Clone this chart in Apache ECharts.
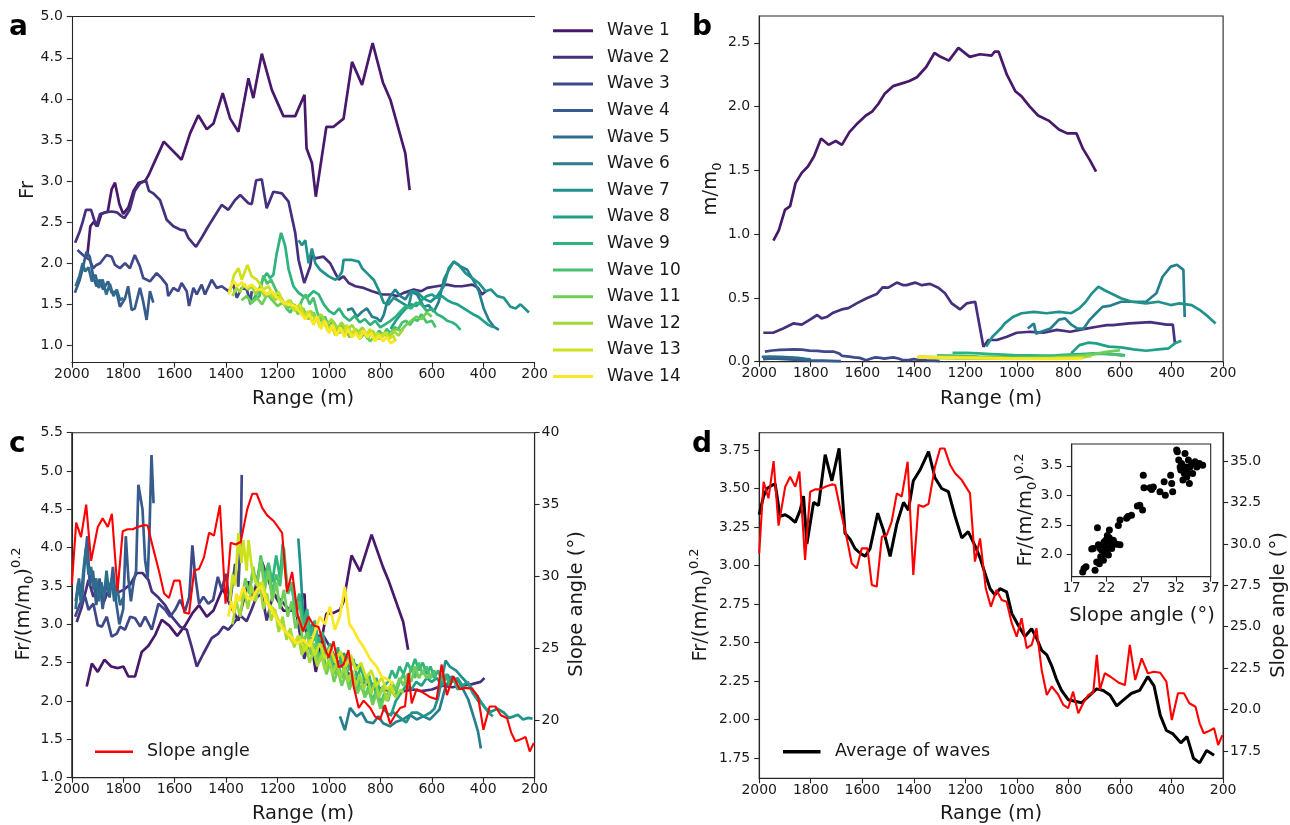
<!DOCTYPE html>
<html><head><meta charset="utf-8">
<script src="https://cdn.jsdelivr.net/npm/echarts@6/dist/echarts.min.js"></script>
<style>html,body{margin:0;padding:0;background:#fff}#c{width:1290px;height:825px}</style>
</head><body><div id="c"></div>
<script>
// ---------- DATA ----------
const WAVE_NAMES = ['Wave 1','Wave 2','Wave 3','Wave 4','Wave 5','Wave 6','Wave 7','Wave 8','Wave 9','Wave 10','Wave 11','Wave 12','Wave 13','Wave 14'];
const WAVE_COLORS = ['#48186a','#46307e','#3f4889','#375b8d','#2e6d8e','#277f8e','#21918c','#1fa088','#2eb37c','#48c16e','#6ece58','#a0da39','#cde11d','#fde725'];
const X_TICKS = [2000,1800,1600,1400,1200,1000,800,600,400,200];

// Panel a : Fr
const A_W1 = [[1940,2.08],[1928,2.45],[1915,2.5],[1900,2.45],[1885,2.6],[1860,2.63],[1845,2.9],[1832,2.98],[1815,2.72],[1800,2.6],[1780,2.68],[1760,2.88],[1740,2.98],[1715,3.0],[1700,3.08],[1683,3.2],[1642,3.48],[1573,3.26],[1540,3.58],[1508,3.8],[1475,3.63],[1449,3.7],[1413,4.07],[1384,3.76],[1352,3.6],[1313,4.25],[1294,4.01],[1261,4.55],[1222,4.11],[1177,3.79],[1131,3.79],[1095,4.05],[1087,3.4],[1066,3.22],[1051,2.81],[1010,3.66],[982,3.66],[943,3.76],[910,4.45],[871,4.17],[830,4.68],[790,4.2],[761,3.99],[703,3.34],[686,2.89]];
const A_W2 = [[1987,2.25],[1970,2.38],[1958,2.5],[1945,2.65],[1925,2.65],[1905,2.45],[1890,2.6],[1870,2.62],[1845,2.63],[1825,2.62],[1810,2.58],[1795,2.55],[1775,2.65],[1755,2.88],[1735,2.97],[1712,3.01],[1700,2.88],[1683,2.85],[1657,2.77],[1631,2.53],[1605,2.45],[1579,2.41],[1560,2.4],[1547,2.31],[1517,2.2],[1495,2.31],[1469,2.45],[1449,2.55],[1417,2.71],[1391,2.65],[1365,2.77],[1345,2.83],[1313,2.73],[1300,2.72],[1283,3.01],[1261,3.02],[1242,2.67],[1216,2.87],[1183,2.85],[1157,2.75],[1131,2.37],[1118,2.04],[1096,1.76],[1073,1.96],[1066,2.1],[1053,2.06],[1021,2.08],[995,2.0],[982,1.92],[962,1.8],[943,1.84],[923,1.76],[897,1.72],[865,1.7],[832,1.66],[793,1.62],[761,1.62],[735,1.6],[709,1.64],[670,1.68],[640,1.66],[618,1.70],[580,1.72],[540,1.74],[510,1.72],[482,1.72],[443,1.74],[420,1.70],[405,1.62],[390,1.66]];
const A_W3 = [[1978,2.16],[1949,2.08],[1930,2.04],[1917,1.94],[1904,1.98],[1890,2.0],[1865,2.10],[1845,2.08],[1832,1.98],[1813,1.94],[1793,2.0],[1774,1.94],[1755,2.10],[1735,1.96],[1722,1.82],[1696,1.78],[1670,1.88],[1651,1.82],[1631,1.74],[1625,1.6],[1605,1.7],[1586,1.66],[1573,1.76],[1553,1.66],[1544,1.48],[1527,1.7],[1514,1.62],[1495,1.74],[1482,1.62],[1456,1.8],[1436,1.7],[1417,1.72],[1391,1.66],[1372,1.74],[1358,1.58],[1339,1.7],[1319,1.68],[1306,1.52],[1300,1.66]];
const A_W4 = [[1988,1.64],[1969,1.8],[1956,1.96],[1943,2.14],[1930,2.08],[1917,1.84],[1904,1.72],[1891,1.8],[1878,1.68],[1859,1.78],[1845,1.64],[1826,1.66],[1813,1.47],[1793,1.57],[1781,1.72],[1767,1.43],[1755,1.45],[1735,1.7],[1722,1.53],[1709,1.31],[1696,1.66],[1683,1.52]];
const A_W5 = [[1985,1.72],[1970,1.85],[1958,2.0],[1948,1.9],[1935,1.95],[1922,1.78],[1908,1.86],[1895,1.7],[1880,1.8],[1866,1.62],[1852,1.75],[1838,1.6],[1825,1.68],[1812,1.55],[1800,1.58]];
const A_W6 = [[930,1.43],[910,1.45],[891,1.35],[871,1.41],[852,1.45],[832,1.35],[813,1.33],[800,1.29],[787,1.37],[774,1.52],[761,1.6],[742,1.68],[722,1.6],[703,1.56],[683,1.66],[657,1.62],[631,1.47],[612,1.49],[592,1.41],[573,1.53],[553,1.8],[534,1.92],[514,2.02],[488,1.96],[462,1.92],[436,1.78],[417,1.66],[398,1.45],[378,1.31],[359,1.23],[339,1.19]];
const A_W7 = [[1118,2.28],[1105,2.22],[1092,2.28],[1079,2.0],[1066,2.18],[1053,2.0],[1034,1.92],[1001,1.84],[975,1.8],[960,1.84],[949,1.9],[943,2.04],[910,2.04],[884,2.02],[871,1.94],[852,1.88],[826,1.8],[807,1.68],[787,1.52],[768,1.5],[748,1.58],[722,1.53],[690,1.47],[677,1.66],[657,1.65],[631,1.57],[605,1.53],[579,1.6],[553,1.72],[534,1.94],[514,2.02],[495,1.98],[469,1.88],[443,1.82],[417,1.76],[391,1.66],[370,1.68],[345,1.6],[320,1.58],[294,1.47],[274,1.45],[255,1.5],[222,1.4]];
const A_W8 = [[760,1.2],[740,1.3],[720,1.38],[700,1.45],[680,1.5],[660,1.48],[640,1.55],[620,1.6],[600,1.62],[580,1.58],[560,1.6],[540,1.55],[520,1.52],[500,1.5],[480,1.46],[460,1.42],[440,1.38],[420,1.35],[400,1.3],[380,1.25],[360,1.22]];
const A_W9 = [[1300,1.52],[1294,1.56],[1274,1.66],[1255,1.82],[1241,1.88],[1229,1.82],[1216,1.86],[1203,2.12],[1186,2.37],[1170,2.21],[1157,1.93],[1138,1.72],[1118,1.64],[1100,1.6],[1086,1.58],[1060,1.66],[1040,1.62],[1020,1.5],[1000,1.42],[980,1.38],[960,1.45],[940,1.35],[920,1.3],[900,1.36],[880,1.28],[860,1.32],[840,1.25],[820,1.3],[800,1.22],[780,1.26],[760,1.3],[740,1.35],[720,1.42],[700,1.48],[680,1.45],[660,1.52],[640,1.5],[620,1.42],[600,1.45],[580,1.38],[560,1.35],[540,1.3],[520,1.28],[505,1.25],[488,1.19]];
const A_W10 = [[1310,1.5],[1290,1.55],[1270,1.6],[1255,1.85],[1240,1.75],[1225,1.8],[1210,1.7],[1195,1.6],[1180,1.55],[1165,1.45],[1150,1.4],[1135,1.5],[1120,1.42],[1105,1.55],[1090,1.62],[1075,1.5],[1060,1.58],[1045,1.4],[1030,1.3],[1015,1.35],[1000,1.22],[985,1.3],[970,1.18],[955,1.25],[940,1.15],[925,1.22],[910,1.12],[895,1.2],[880,1.1],[865,1.18],[850,1.08],[835,1.15],[820,1.1],[805,1.18],[790,1.12],[775,1.2],[760,1.15],[745,1.22],[730,1.2],[715,1.28],[700,1.3],[685,1.25],[670,1.32],[655,1.3],[640,1.38],[620,1.28],[600,1.3],[585,1.22]];
const A_W11 = [[1340,1.55],[1320,1.6],[1300,1.52],[1280,1.58],[1260,1.5],[1240,1.62],[1220,1.55],[1200,1.48],[1180,1.52],[1160,1.45],[1140,1.5],[1120,1.38],[1100,1.45],[1080,1.32],[1060,1.4],[1040,1.28],[1020,1.35],[1000,1.2],[980,1.28],[960,1.15],[940,1.22],[920,1.1],[900,1.18],[880,1.08],[860,1.15],[840,1.05],[820,1.12],[800,1.08],[780,1.15],[760,1.12],[740,1.2],[720,1.18],[700,1.25],[680,1.3],[660,1.35],[640,1.32],[620,1.4],[600,1.35]];
const A_W12 = [[1375,1.6],[1360,1.7],[1345,1.65],[1330,1.75],[1315,1.68],[1300,1.72],[1285,1.62],[1270,1.7],[1250,1.6],[1230,1.65],[1210,1.55],[1190,1.6],[1170,1.48],[1150,1.55],[1130,1.42],[1110,1.48],[1090,1.36],[1070,1.42],[1050,1.3],[1030,1.38],[1010,1.25],[990,1.32],[970,1.2],[950,1.28],[930,1.18],[910,1.25],[890,1.15],[870,1.22],[850,1.12],[830,1.18],[810,1.08],[790,1.15],[770,1.1],[750,1.18],[730,1.12],[710,1.2]];
const A_W13 = [[1385,1.65],[1370,1.85],[1352,1.94],[1339,1.8],[1317,1.98],[1300,1.84],[1280,1.8],[1255,1.68],[1235,1.72],[1215,1.6],[1195,1.65],[1175,1.5],[1155,1.55],[1135,1.42],[1115,1.5],[1095,1.35],[1080,1.42],[1065,1.28],[1050,1.35],[1035,1.22],[1020,1.3],[1005,1.18],[990,1.25],[975,1.12],[960,1.2],[945,1.15],[930,1.25],[915,1.12],[900,1.2],[885,1.1],[870,1.18],[855,1.12],[840,1.2],[825,1.08],[810,1.15],[795,1.1],[780,1.16],[765,1.08],[750,1.12],[740,1.05]];
const A_W14 = [[1390,1.62],[1384,1.7],[1370,1.78],[1355,1.72],[1339,1.77],[1320,1.7],[1300,1.74],[1280,1.68],[1261,1.68],[1240,1.62],[1222,1.66],[1200,1.58],[1177,1.52],[1155,1.5],[1131,1.48],[1112,1.4],[1092,1.32],[1075,1.38],[1060,1.25],[1045,1.35],[1030,1.2],[1015,1.3],[1000,1.15],[985,1.25],[970,1.12],[955,1.22],[940,1.1],[925,1.2],[910,1.1],[895,1.15],[880,1.08],[865,1.18],[850,1.1],[835,1.15],[820,1.05],[805,1.12],[790,1.05],[775,1.1],[760,1.03],[745,1.05]];

// Panel b : m/m0
const B_W1 = [[1945,0.95],[1924,1.03],[1900,1.19],[1880,1.22],[1859,1.40],[1835,1.48],[1811,1.53],[1787,1.61],[1760,1.75],[1731,1.70],[1703,1.73],[1679,1.70],[1650,1.80],[1618,1.87],[1586,1.93],[1562,1.96],[1538,2.02],[1513,2.10],[1481,2.16],[1449,2.18],[1417,2.20],[1388,2.23],[1352,2.31],[1320,2.42],[1296,2.39],[1264,2.36],[1227,2.46],[1183,2.39],[1143,2.41],[1098,2.40],[1087,2.43],[1071,2.43],[1039,2.25],[1006,2.12],[982,2.08],[950,2.0],[918,1.93],[877,1.89],[837,1.82],[805,1.79],[769,1.79],[744,1.67],[717,1.58],[693,1.49]];
const B_W2 = [[1984,0.227],[1946,0.227],[1907,0.26],[1868,0.30],[1835,0.29],[1803,0.33],[1775,0.366],[1758,0.34],[1738,0.35],[1713,0.384],[1680,0.41],[1654,0.42],[1622,0.457],[1583,0.497],[1544,0.53],[1521,0.583],[1499,0.58],[1466,0.62],[1441,0.60],[1428,0.60],[1395,0.62],[1369,0.60],[1337,0.61],[1305,0.58],[1279,0.537],[1253,0.457],[1221,0.41],[1195,0.457],[1162,0.47],[1130,0.117],[1111,0.17],[1078,0.17],[1039,0.196],[1001,0.227],[949,0.235],[897,0.227],[845,0.25],[793,0.235],[742,0.255],[690,0.274],[651,0.287],[628,0.287],[564,0.30],[483,0.31],[419,0.29],[395,0.29],[387,0.144]];
const B_W3 = [[1978,0.079],[1950,0.088],[1920,0.092],[1890,0.095],[1862,0.097],[1835,0.094],[1805,0.087],[1775,0.085],[1747,0.079],[1712,0.08],[1690,0.065],[1678,0.045],[1650,0.04],[1631,0.034],[1610,0.03],[1585,0.012],[1565,0.025],[1550,0.034],[1530,0.03],[1515,0.024],[1495,0.03],[1480,0.034],[1460,0.025],[1446,0.015],[1420,0.012],[1400,0.02],[1380,0.015],[1350,0.01],[1320,0.008],[1300,0.005]];
const B_W4 = [[1985,0.02],[1950,0.025],[1900,0.02],[1850,0.015],[1800,0.01],[1750,0.008],[1700,0.005],[1683,0.005]];
const B_W5 = [[1990,0.038],[1960,0.04],[1920,0.038],[1880,0.035],[1850,0.03],[1820,0.022],[1800,0.018]];
const B_W6 = [[958,0.26],[934,0.30],[926,0.22],[870,0.26],[837,0.33],[813,0.34],[789,0.29],[765,0.26],[741,0.26],[717,0.33],[693,0.38],[668,0.43],[636,0.44],[596,0.47],[547,0.47],[499,0.47],[459,0.536],[435,0.666],[403,0.745],[379,0.76],[354,0.72],[349,0.35]];
const B_W7 = [[1119,0.118],[1095,0.196],[1063,0.26],[1047,0.30],[1014,0.353],[982,0.38],[934,0.39],[886,0.38],[837,0.39],[789,0.38],[757,0.42],[733,0.47],[709,0.536],[684,0.588],[660,0.56],[636,0.536],[596,0.497],[555,0.47],[499,0.457],[451,0.47],[403,0.444],[370,0.457],[322,0.444],[290,0.405],[258,0.353],[229,0.30]];
const B_W8 = [[789,0.066],[757,0.13],[724,0.149],[693,0.144],[644,0.118],[596,0.112],[547,0.097],[499,0.086],[451,0.097],[411,0.105],[387,0.144],[362,0.165]];
const B_W9 = [[1250,0.07],[1200,0.07],[1150,0.065],[1100,0.06],[1050,0.055],[1000,0.05],[950,0.05],[900,0.048],[850,0.05],[800,0.055],[750,0.06],[700,0.065],[650,0.06],[600,0.055],[580,0.05]];
const B_W10 = [[1310,0.05],[1250,0.048],[1200,0.045],[1150,0.04],[1100,0.038],[1050,0.035],[1000,0.035],[950,0.035],[900,0.038],[850,0.04],[800,0.045],[750,0.05],[700,0.06],[650,0.065],[600,0.05],[585,0.048]];
const B_W11 = [[1340,0.03],[1280,0.028],[1220,0.026],[1160,0.025],[1100,0.025],[1040,0.026],[980,0.028],[920,0.03],[860,0.032],[800,0.038],[740,0.05],[700,0.06],[660,0.075],[620,0.085],[600,0.09]];
const B_W12 = [[1375,0.038],[1320,0.035],[1260,0.033],[1200,0.03],[1140,0.028],[1080,0.026],[1020,0.025],[960,0.025],[900,0.026],[840,0.028],[780,0.03],[740,0.035],[710,0.045]];
const B_W13 = [[1385,0.04],[1330,0.038],[1270,0.036],[1210,0.034],[1150,0.032],[1090,0.03],[1030,0.028],[970,0.027],[910,0.027],[850,0.028],[790,0.03],[740,0.033]];
const B_W14 = [[1390,0.035],[1330,0.034],[1270,0.032],[1210,0.03],[1150,0.028],[1090,0.026],[1030,0.024],[970,0.023],[910,0.022],[850,0.022],[790,0.024],[745,0.025]];

// Panel c : Fr/(m/m0)^0.2
const C_W1 = [[1942,2.19],[1922,2.49],[1899,2.38],[1873,2.54],[1847,2.45],[1821,2.43],[1799,2.45],[1780,2.32],[1754,2.32],[1728,2.64],[1702,2.72],[1676,2.86],[1650,3.06],[1620,2.98],[1590,2.85],[1560,2.98],[1530,3.15],[1505,3.25],[1475,3.1],[1449,3.18],[1413,3.47],[1384,3.25],[1352,3.05],[1313,3.56],[1294,3.35],[1263,3.84],[1222,3.45],[1177,3.18],[1131,3.18],[1095,3.4],[1087,2.88],[1066,2.7],[1051,2.38],[1010,3.14],[982,3.15],[957,3.19],[943,3.3],[912,3.9],[879,3.69],[834,4.17],[790,3.75],[769,3.58],[711,3.03],[692,2.67]];
const C_W2 = [[1981,3.03],[1961,3.23],[1935,3.58],[1916,3.36],[1897,3.52],[1877,3.28],[1851,3.5],[1825,3.41],[1799,3.45],[1773,3.52],[1747,3.67],[1725,3.67],[1702,3.58],[1689,3.43],[1663,3.35],[1637,3.25],[1611,3.1],[1579,2.97],[1553,2.93],[1534,2.71],[1514,2.45],[1488,2.62],[1456,2.82],[1430,2.88],[1411,2.97],[1391,2.93],[1365,3.04],[1346,3.12],[1320,3.04],[1300,3.2],[1283,3.35],[1261,3.4],[1242,3.05],[1216,3.4],[1183,3.3],[1157,3.2],[1131,3.25],[1118,2.98],[1096,2.55],[1073,2.8],[1053,2.85],[1021,2.85],[995,2.7],[975,2.55],[956,2.48],[930,2.38],[904,2.3],[878,2.25],[852,2.22],[813,2.18],[774,2.14],[735,2.1],[709,2.13],[670,2.15],[640,2.13],[600,2.15],[560,2.2],[520,2.18],[482,2.2],[443,2.22],[410,2.25],[395,2.3]];
const C_W3 = [[1987,3.10],[1968,3.27],[1948,3.36],[1935,3.19],[1916,3.27],[1899,2.99],[1883,2.97],[1864,3.10],[1845,2.84],[1825,2.88],[1812,2.97],[1793,2.93],[1773,3.10],[1754,3.08],[1734,2.97],[1715,3.10],[1689,2.93],[1663,3.27],[1637,3.19],[1618,3.10],[1598,3.19],[1579,3.32],[1560,3.17],[1543,3.36],[1531,4.03],[1521,3.66],[1505,3.27],[1488,3.36],[1469,3.27],[1450,3.32],[1432,3.62],[1417,3.45],[1401,3.66],[1385,3.27],[1365,3.79],[1352,3.49],[1342,4.23],[1339,4.95]];
const C_W4 = [[1985,3.3],[1972,3.6],[1962,3.25],[1950,3.8],[1940,4.15],[1930,3.5],[1918,3.7],[1905,3.25],[1892,3.6],[1880,3.2],[1866,3.55],[1853,3.35],[1840,3.75],[1828,3.3],[1815,3.0],[1800,3.2],[1790,4.15],[1780,3.6],[1770,3.3],[1760,3.55],[1750,3.7],[1741,4.82],[1731,4.62],[1725,4.5],[1715,3.84],[1705,3.6],[1698,4.2],[1690,5.21],[1682,4.58]];
const C_W5 = [[1985,3.2],[1975,3.55],[1965,3.3],[1955,3.7],[1945,4.0],[1935,3.65],[1925,3.75],[1915,3.45],[1905,3.6],[1895,3.3],[1885,3.55],[1875,3.35],[1865,3.7],[1855,3.4],[1845,3.6],[1835,3.3],[1825,3.5],[1812,3.25],[1800,3.35]];
const C_W6 = [[957,1.8],[938,1.62],[918,1.91],[892,1.8],[873,1.85],[853,1.73],[828,1.71],[808,1.8],[789,1.71],[763,1.67],[737,1.73],[711,1.76],[685,1.82],[659,1.76],[633,1.8],[607,1.76],[590,1.82],[570,1.89],[546,2.19],[522,2.32],[505,2.28],[490,2.23],[458,2.02],[434,1.76],[420,1.6],[409,1.38]];
const C_W7 = [[1119,4.12],[1112,3.8],[1105,3.4],[1098,3.0],[1090,3.1],[1080,2.85],[1066,3.0],[1053,2.8],[1034,2.75],[1015,2.6],[1001,2.55],[985,2.5],[970,2.45],[958,2.5],[943,2.62],[925,2.55],[910,2.5],[884,2.45],[871,2.38],[852,2.3],[826,2.2],[807,2.05],[787,1.9],[768,1.82],[748,1.85],[722,1.78],[700,1.72],[677,1.85],[657,1.85],[631,1.8],[605,1.85],[590,1.9],[575,2.05],[560,2.3],[546,2.53],[530,2.45],[506,2.4],[480,2.3],[450,2.19],[420,2.05],[393,1.91],[370,1.86],[345,1.9],[320,1.85],[300,1.78],[280,1.8],[265,1.82],[245,1.76],[225,1.78],[208,1.77]];
const C_W8 = [[760,1.8],[740,2.0],[720,2.1],[700,2.2],[680,2.15],[660,2.25],[640,2.2],[620,2.3],[600,2.25],[580,2.3],[560,2.2],[540,2.35],[520,2.25],[500,2.3],[480,2.2],[460,2.25],[440,2.1],[420,2.0],[400,1.95],[380,1.85],[362,1.8]];
const C_W9 = [[1250,3.5],[1235,3.8],[1220,3.55],[1205,3.9],[1190,3.6],[1180,4.05],[1170,3.7],[1160,3.4],[1145,3.5],[1130,3.2],[1115,3.4],[1100,3.0],[1085,3.2],[1070,2.85],[1055,3.05],[1040,2.75],[1025,2.9],[1010,2.6],[995,2.75],[980,2.5],[965,2.7],[950,2.45],[935,2.6],[920,2.4],[905,2.55],[890,2.3],[875,2.45],[860,2.25],[845,2.35],[830,2.15],[815,2.3],[800,2.1],[785,2.2],[770,2.25],[755,2.4],[740,2.3],[725,2.45],[710,2.35],[695,2.5],[680,2.4],[665,2.55],[650,2.4],[635,2.5],[620,2.35],[605,2.45],[590,2.3],[575,2.4],[560,2.25],[545,2.35],[530,2.2],[515,2.3],[500,2.15],[488,2.2]];
const C_W10 = [[1310,3.4],[1295,3.7],[1280,3.5],[1265,3.9],[1250,3.6],[1235,3.8],[1220,3.4],[1205,3.65],[1190,3.5],[1175,4.0],[1160,3.4],[1145,3.55],[1130,3.1],[1115,3.3],[1100,2.9],[1085,3.05],[1070,2.7],[1055,2.9],[1040,2.55],[1025,2.7],[1010,2.4],[995,2.6],[980,2.35],[965,2.5],[950,2.3],[935,2.45],[920,2.2],[905,2.35],[890,2.15],[875,2.3],[860,2.05],[845,2.2],[830,2.0],[815,2.15],[800,1.95],[785,2.1],[770,2.0],[755,2.2],[740,2.1],[725,2.25],[710,2.35],[695,2.2],[680,2.45],[665,2.3],[650,2.5],[635,2.35],[620,2.45],[605,2.3],[590,2.4],[585,2.3]];
const C_W11 = [[1340,3.3],[1325,3.6],[1310,3.4],[1295,3.75],[1280,3.5],[1265,3.85],[1250,3.45],[1235,3.7],[1220,3.3],[1205,3.55],[1190,3.2],[1175,3.45],[1160,3.1],[1145,3.3],[1130,2.95],[1115,3.1],[1100,2.75],[1085,2.9],[1070,2.6],[1055,2.75],[1040,2.5],[1025,2.6],[1010,2.35],[995,2.5],[980,2.25],[965,2.4],[950,2.2],[935,2.35],[920,2.15],[905,2.3],[890,2.1],[875,2.2],[860,2.05],[845,2.15],[830,1.95],[815,2.1],[800,1.9],[785,2.05],[770,2.1],[755,2.25],[740,2.15],[725,2.3],[710,2.2],[695,2.35],[680,2.25],[665,2.45],[650,2.3],[635,2.4],[620,2.3],[605,2.35],[600,2.3]];
const C_W12 = [[1375,3.0],[1360,3.3],[1345,3.1],[1330,3.45],[1315,3.2],[1300,3.5],[1285,3.3],[1270,3.55],[1255,3.2],[1240,3.4],[1225,3.05],[1210,3.2],[1195,2.9],[1180,3.1],[1165,2.8],[1150,2.95],[1135,2.7],[1120,2.85],[1105,2.6],[1090,2.75],[1075,2.5],[1060,2.65],[1045,2.45],[1030,2.6],[1015,2.4],[1000,2.55],[985,2.35],[970,2.5],[955,2.3],[940,2.45],[925,2.25],[910,2.4],[895,2.2],[880,2.35],[865,2.15],[850,2.3],[835,2.1],[820,2.25],[805,2.05],[790,2.2],[775,2.0],[760,2.15],[740,2.05],[720,2.15],[710,2.1]];
const C_W13 = [[1385,3.3],[1375,3.65],[1365,3.5],[1352,4.19],[1340,3.8],[1333,4.1],[1320,3.7],[1313,4.1],[1300,3.75],[1290,3.6],[1275,3.49],[1260,3.55],[1236,3.27],[1215,3.2],[1190,3.01],[1165,2.9],[1139,2.75],[1115,2.85],[1095,2.65],[1075,2.8],[1055,2.6],[1035,2.75],[1015,2.55],[995,2.7],[975,2.5],[955,2.65],[935,2.45],[915,2.6],[895,2.4],[875,2.5],[855,2.3],[835,2.4],[815,2.2],[795,2.3],[775,2.15],[760,2.2],[745,2.1]];
const C_W14 = [[1391,3.1],[1380,3.3],[1370,3.15],[1360,3.4],[1350,3.3],[1333,3.49],[1318,3.35],[1300,3.32],[1280,3.45],[1262,3.49],[1245,3.3],[1223,3.19],[1200,3.05],[1177,2.93],[1150,2.85],[1125,2.75],[1100,2.8],[1074,2.71],[1055,2.9],[1035,3.1],[1015,3.0],[996,3.23],[977,2.93],[958,3.1],[938,3.49],[920,3.0],[905,2.93],[885,2.8],[866,2.71],[840,2.55],[814,2.45],[795,2.32],[770,2.28],[750,2.22]];

// Slope angle (degrees), shared by panels c and d
const SLOPE = [[2000,29.43],[1983,33.75],[1964,32.75],[1944,35.0],[1925,31.1],[1899,33.45],[1880,34.05],[1860,33.45],[1844,34.36],[1822,29.03],[1802,33.15],[1783,33.29],[1763,33.29],[1744,33.45],[1718,33.59],[1705,33.55],[1686,32.14],[1660,30.33],[1641,28.83],[1622,28.52],[1602,29.73],[1580,29.73],[1563,27.52],[1544,27.42],[1524,30.43],[1505,30.54],[1486,31.34],[1466,33.05],[1447,32.85],[1424,34.96],[1402,28.12],[1382,32.35],[1363,32.24],[1343,32.41],[1318,34.66],[1298,35.76],[1281,35.76],[1259,34.76],[1240,34.26],[1214,33.85],[1182,33.05],[1163,28.93],[1143,30.33],[1121,27.32],[1101,26.21],[1079,27.22],[1059,26.61],[1040,26.51],[1020,25.21],[1001,24.4],[982,25.51],[962,23.7],[943,23.9],[924,24.9],[904,22.39],[884,20.88],[865,21.39],[839,20.88],[820,20.28],[801,20.08],[782,21.08],[762,19.78],[743,20.38],[723,20.88],[704,21.0],[690,23.3],[678,21.2],[659,22.19],[637,21.98],[605,21.62],[581,21.48],[562,23.9],[541,21.78],[516,23.09],[492,22.19],[468,22.28],[444,22.22],[420,21.68],[399,19.37],[375,20.98],[352,20.98],[331,20.38],[307,20.17],[291,19.17],[275,18.57],[259,18.67],[235,18.87],[219,17.86],[203,18.46]];

// Panel d : average of waves
const D_AVG = [[2000,3.33],[1983,3.45],[1970,3.5],[1951,3.52],[1938,3.53],[1919,3.32],[1899,3.33],[1880,3.31],[1860,3.28],[1841,3.36],[1828,3.45],[1815,3.14],[1789,3.41],[1770,3.39],[1744,3.72],[1718,3.55],[1690,3.76],[1667,3.21],[1647,3.17],[1628,3.11],[1608,3.08],[1589,3.06],[1570,3.11],[1540,3.34],[1518,3.23],[1492,3.06],[1466,3.27],[1440,3.41],[1421,3.36],[1402,3.55],[1376,3.62],[1343,3.74],[1318,3.57],[1292,3.5],[1266,3.48],[1240,3.32],[1214,3.18],[1189,3.22],[1163,3.13],[1143,3.05],[1124,2.95],[1104,2.85],[1085,2.81],[1066,2.85],[1040,2.83],[1020,2.69],[994,2.61],[969,2.54],[943,2.59],[924,2.53],[904,2.45],[884,2.42],[865,2.35],[846,2.26],[827,2.19],[801,2.13],[775,2.12],[749,2.11],[723,2.15],[691,2.2],[665,2.19],[639,2.16],[613,2.09],[585,2.13],[557,2.17],[524,2.19],[492,2.28],[468,2.22],[444,2.03],[420,1.93],[396,1.91],[364,1.85],[340,1.89],[315,1.75],[291,1.72],[264,1.8],[235,1.77]];

// Inset: [slope angle, Fr/(m/m0)^0.2]
const INSET = [[18.58,1.70],[18.77,1.76],[19.06,1.79],[19.88,2.09],[20.1,2.10],[20.36,1.73],[20.6,1.87],[20.7,2.45],[20.84,2.16],[20.98,1.84],[21.08,2.10],[21.17,1.96],[21.3,1.93],[21.32,2.07],[21.46,2.16],[21.56,1.90],[21.65,2.21],[21.7,2.12],[21.8,2.01],[21.9,2.24],[22.0,2.05],[22.04,2.13],[22.13,2.32],[22.28,2.18],[22.28,1.99],[22.4,2.28],[22.42,2.41],[22.52,2.24],[22.6,2.16],[22.75,2.10],[22.99,2.24],[23.47,2.17],[23.95,2.16],[23.71,2.49],[23.95,2.58],[24.9,2.61],[25.1,2.64],[25.6,2.66],[26.45,2.82],[26.8,2.83],[27.2,2.75],[27.3,3.34],[27.4,3.13],[28.27,3.13],[28.5,3.10],[28.75,3.14],[29.7,3.06],[30.3,3.23],[30.47,3.00],[31.24,3.34],[31.39,3.20],[31.53,3.06],[32.1,3.77],[32.2,3.74],[32.4,3.60],[32.6,3.48],[32.7,3.43],[32.8,3.54],[33.0,3.26],[33.2,3.37],[33.3,3.71],[33.45,3.48],[33.55,3.31],[33.64,3.40],[33.79,3.60],[33.93,3.20],[34.03,3.48],[34.27,3.54],[34.4,3.37],[34.75,3.57],[35.0,3.48],[35.37,3.54],[35.85,3.51]];

// tick values
const A_Y_TICKS = [1.0,1.5,2.0,2.5,3.0,3.5,4.0,4.5,5.0];
const B_Y_TICKS = [0,0.5,1.0,1.5,2.0,2.5];
const C_Y_TICKS = [1.0,1.5,2.0,2.5,3.0,3.5,4.0,4.5,5.0,5.5];
const C_Y2_TICKS = [20,25,30,35,40];
const D_Y_TICKS = [1.75,2.0,2.25,2.5,2.75,3.0,3.25,3.5,3.75];
const D_Y2_TICKS = [17.5,20,22.5,25,27.5,30,32.5,35];
const IN_X_TICKS = [17,22,27,32,37];
const IN_Y_TICKS = [2.0,2.5,3.0,3.5];

const A_WAVES=[A_W1,A_W2,A_W3,A_W4,A_W5,A_W6,A_W7,A_W8,A_W9,A_W10,A_W11,A_W12,A_W13,A_W14];
const B_WAVES=[B_W1,B_W2,B_W3,B_W4,B_W5,B_W6,B_W7,B_W8,B_W9,B_W10,B_W11,B_W12,B_W13,B_W14];
const C_WAVES=[C_W1,C_W2,C_W3,C_W4,C_W5,C_W6,C_W7,C_W8,C_W9,C_W10,C_W11,C_W12,C_W13,C_W14];

// ---------- CHART ----------
const FONT='DejaVu Sans', AX='#262626', TXT='#1a1a1a';
const chart = echarts.init(document.getElementById('c'), null, {renderer:'canvas'});

function xAx(gi, extra){
  return Object.assign({type:'value', gridIndex:gi, min:200, max:2000, inverse:true,
    axisLine:{show:true,onZero:false,lineStyle:{color:AX,width:1.1}},
    axisTick:{show:true,length:5,customValues:X_TICKS,lineStyle:{color:AX,width:1.1}},
    axisLabel:{customValues:X_TICKS,formatter:v=>String(Math.round(v)),fontSize:14,fontFamily:FONT,color:TXT,margin:5},
    splitLine:{show:false}}, extra||{});
}
function yAx(gi,min,max,ticks,fmt,pos){
  return {type:'value', gridIndex:gi, min:min, max:max, position:pos||'left',
    axisLine:{show:true,onZero:false,lineStyle:{color:AX,width:1.1}},
    axisTick:{show:true,length:5,customValues:ticks,lineStyle:{color:AX,width:1.1}},
    axisLabel:{customValues:ticks,formatter:fmt,fontSize:14,fontFamily:FONT,color:TXT,margin:pos==='right'?7:9},
    splitLine:{show:false}};
}
const f1=v=>v.toFixed(1), f2=v=>v.toFixed(2), f0=v=>String(Math.round(v));

const grids=[
  {left:71.8,top:16.7,width:462.8,height:346,show:false},
  {left:759.2,top:16,width:463.9,height:345.7,show:true,borderColor:AX,borderWidth:1.1},
  {left:71.8,top:432.7,width:462.8,height:345,show:true,borderColor:AX,borderWidth:1.1},
  {left:759.2,top:432.7,width:463.9,height:345.6,show:true,borderColor:AX,borderWidth:1.1},
  {left:1071.7,top:444,width:139,height:132.7,show:true,borderColor:AX,borderWidth:1.1,backgroundColor:'#fff',z:5}
];
const xAxes=[
  xAx(0), xAx(0,{position:'top',axisTick:{show:false},axisLabel:{show:false}}),
  xAx(1), xAx(2), xAx(3),
  {type:'value',gridIndex:4,min:17,max:37,
    axisLine:{show:true,onZero:false,lineStyle:{color:AX,width:1.1}},
    axisTick:{show:true,length:5,customValues:IN_X_TICKS,lineStyle:{color:AX,width:1.1}},
    axisLabel:{customValues:IN_X_TICKS,formatter:f0,fontSize:14,fontFamily:FONT,color:TXT,margin:5},
    splitLine:{show:false}, z:6}
];
const yAxes=[
  yAx(0,0.79,5.0,A_Y_TICKS,f1),
  yAx(1,0,2.71,B_Y_TICKS,f1),
  yAx(2,1.0,5.5,C_Y_TICKS,f1),
  yAx(2,16.04,40,C_Y2_TICKS,f0,'right'),
  yAx(3,1.62,3.862,D_Y_TICKS,f2),
  yAx(3,15.85,36.71,D_Y2_TICKS,f1,'right'),
  Object.assign(yAx(4,1.62,3.87,IN_Y_TICKS,f1),{z:6})
];

const series=[];
function addWaves(arr, xi, yi){
  arr.forEach((d,i)=>series.push({type:'line',name:WAVE_NAMES[i],xAxisIndex:xi,yAxisIndex:yi,data:d,
    symbol:'none',lineStyle:{width:2.7,color:WAVE_COLORS[i]},itemStyle:{color:WAVE_COLORS[i]},z:2+i*0.01}));
}
addWaves(A_WAVES,0,0);
addWaves(B_WAVES,2,1);
addWaves(C_WAVES,3,2);
series.push({type:'line',name:'Slope angle',xAxisIndex:3,yAxisIndex:3,data:SLOPE,symbol:'none',
  lineStyle:{width:2.1,color:'#ff0000'},itemStyle:{color:'#ff0000'},z:3});
series.push({type:'line',name:'Average of waves',xAxisIndex:4,yAxisIndex:4,data:D_AVG,symbol:'none',
  lineStyle:{width:3,color:'#000000'},itemStyle:{color:'#000000'},z:2});
series.push({type:'line',name:'Slope angle',xAxisIndex:4,yAxisIndex:5,data:SLOPE,symbol:'none',
  lineStyle:{width:2.1,color:'#ff0000'},itemStyle:{color:'#ff0000'},z:3});
series.push({type:'scatter',name:'inset',xAxisIndex:5,yAxisIndex:6,data:INSET,symbol:'circle',symbolSize:7,
  itemStyle:{color:'#000000',opacity:1},z:7});

function txt(x,y,text,size,rot,extra){
  return {type:'text',x:x,y:y,rotation:rot||0,z:100,
    style:Object.assign({text:text,fontSize:size,fontFamily:FONT,fill:TXT,
      align:'center',verticalAlign:'middle',textAlign:'center',textVerticalAlign:'middle'},extra||{})};
}
const RICH={sub:{fontSize:13,lineHeight:13,verticalAlign:'bottom',fontFamily:FONT,fill:TXT},
            sup:{fontSize:13,lineHeight:13,verticalAlign:'top',fontFamily:FONT,fill:TXT}};
const R90=Math.PI/2;
const FRM='Fr/(m/m{sub|0}){sup|0.2}';
const graphics=[
  txt(9,27.7,'a',28,0,{fontWeight:'bold',align:'left',textAlign:'left',fill:'#000'}),
  txt(692,27.7,'b',28,0,{fontWeight:'bold',align:'left',textAlign:'left',fill:'#000'}),
  txt(9,444.4,'c',28,0,{fontWeight:'bold',align:'left',textAlign:'left',fill:'#000'}),
  txt(692,444.4,'d',28,0,{fontWeight:'bold',align:'left',textAlign:'left',fill:'#000'}),
  txt(303,399,'Range (m)',19.5),
  txt(991,399,'Range (m)',19.5),
  txt(303,814,'Range (m)',19.5),
  txt(991,814,'Range (m)',19.5),
  txt(28.2,190,'Fr',19.5,R90),
  txt(711,189,'m/m{sub|0}',19.5,R90,{rich:RICH,lineHeight:26}),
  txt(23.5,604,FRM,19.5,R90,{rich:RICH,lineHeight:26}),
  txt(577,604,'Slope angle (°)',19.5,R90),
  txt(701,605,FRM,19.5,R90,{rich:RICH,lineHeight:26}),
  txt(1279,605,'Slope angle (°)',19.5,R90),
  txt(1026,510,FRM,19.5,R90,{rich:RICH,lineHeight:26}),
  txt(1142,616,'Slope angle (°)',19.5,0)
];

const legendText={fontSize:17,fontFamily:FONT,color:TXT,lineHeight:20};
chart.setOption({
  animation:false,
  backgroundColor:'#fff',
  grid:grids, xAxis:xAxes, yAxis:yAxes, series:series,
  legend:[
    {data:WAVE_NAMES,orient:'vertical',left:553,top:20.7,padding:0,icon:'rect',itemWidth:40,itemHeight:3,itemGap:6.6,
     selectedMode:false,textStyle:Object.assign({padding:[0,0,0,9]},legendText)},
    {data:['Slope angle'],left:95,top:741.7,padding:0,icon:'rect',itemWidth:38,itemHeight:2.5,selectedMode:false,
     textStyle:Object.assign({padding:[0,0,0,9]},legendText,{fontSize:17.5})},
    {data:['Average of waves'],left:783,top:741.7,padding:0,icon:'rect',itemWidth:37.5,itemHeight:3.5,selectedMode:false,
     textStyle:Object.assign({padding:[0,0,0,9.5]},legendText,{fontSize:17.5})}
  ],
  graphic:graphics
});
</script>
</body></html>
